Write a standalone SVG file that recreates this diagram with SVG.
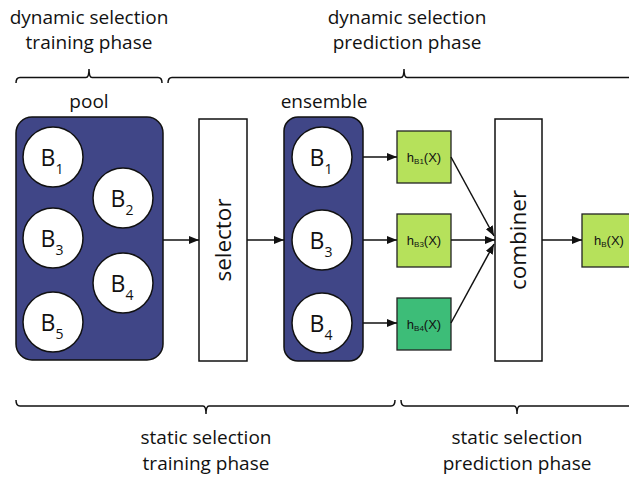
<svg xmlns="http://www.w3.org/2000/svg" width="629" height="478" viewBox="0 0 629 478">
<style>
.lbl{font-family:"Open Sans","Noto Sans",sans-serif;font-size:19px;fill:#111;text-anchor:middle}
.big{font-family:"Open Sans","Noto Sans",sans-serif;font-size:22.5px;fill:#111;text-anchor:middle}
.bl{font-family:"Open Sans","Noto Sans",sans-serif;font-size:23px;fill:#111;text-anchor:middle}
.hl{font-family:"Liberation Sans",Arial,sans-serif;font-size:13px;fill:#111;text-anchor:middle}
.grp{fill:#404687;stroke:#111;stroke-width:1.5}
.circ{fill:#fff;stroke:#111;stroke-width:1.5}
.box{fill:#fff;stroke:#111;stroke-width:1.5}
.g1{fill:#b6e15b;stroke:#222;stroke-width:1.3}
.g2{fill:#3dbd78;stroke:#222;stroke-width:1.3}
.brace{fill:none;stroke:#111;stroke-width:1.5}
.arr{fill:none;stroke:#111;stroke-width:1.5;marker-end:url(#ah)}
</style>
<defs>
<marker id="ah" viewBox="0 0 10 8" refX="10" refY="4" markerWidth="10" markerHeight="8" markerUnits="userSpaceOnUse" orient="auto">
<path d="M0,0 L10,4 L0,8 Z" fill="#111"/>
</marker>
</defs>

<g id="labels">
<text class="lbl" x="89" y="24">dynamic selection</text>
<text class="lbl" x="89" y="49">training phase</text>
<text class="lbl" x="407" y="24">dynamic selection</text>
<text class="lbl" x="407" y="49">prediction phase</text>
<text class="lbl" x="89" y="108">pool</text>
<text class="lbl" x="324" y="108">ensemble</text>
<text class="lbl" x="206" y="444">static selection</text>
<text class="lbl" x="206" y="470">training phase</text>
<text class="lbl" x="517" y="444">static selection</text>
<text class="lbl" x="517" y="470">prediction phase</text>
</g>

<g id="braces">
<path class="brace" d="M16,83 Q16,77.5 20,77.5 H86 Q89,77.5 89,69 Q89,77.5 92,77.5 H158 Q162,77.5 162,83"/>
<path class="brace" d="M168,83 Q168,77.5 172,77.5 H401 Q404,77.5 404,69 Q404,77.5 407,77.5 H640"/>
<path class="brace" d="M16,400 Q16,406 20,406 H203 Q206,406 206,414 Q206,406 209,406 H391 Q395,406 395,400"/>
<path class="brace" d="M401,400 Q401,406 405,406 H514 Q517,406 517,414 Q517,406 520,406 H640"/>
</g>

<g id="pool">
<rect class="grp" x="16" y="117" width="147" height="243" rx="16"/>
<circle class="circ" cx="53" cy="157" r="30"/>
<text class="bl" x="52" y="166">B<tspan font-size="14" dy="8">1</tspan></text>
<circle class="circ" cx="123" cy="198" r="30"/>
<text class="bl" x="122" y="207">B<tspan font-size="14" dy="8">2</tspan></text>
<circle class="circ" cx="53" cy="238" r="30"/>
<text class="bl" x="52" y="247">B<tspan font-size="14" dy="8">3</tspan></text>
<circle class="circ" cx="123" cy="283" r="30"/>
<text class="bl" x="122" y="292">B<tspan font-size="14" dy="8">4</tspan></text>
<circle class="circ" cx="53" cy="322" r="30"/>
<text class="bl" x="52" y="331">B<tspan font-size="14" dy="8">5</tspan></text>
</g>

<g id="selector">
<rect class="box" x="199" y="119" width="48" height="242"/>
<text class="big" transform="translate(231,240) rotate(-90)">selector</text>
</g>

<g id="ensemble">
<rect class="grp" x="284" y="117" width="79" height="244" rx="14"/>
<circle class="circ" cx="322" cy="157" r="30"/>
<text class="bl" x="321" y="166">B<tspan font-size="14" dy="8">1</tspan></text>
<circle class="circ" cx="322" cy="240" r="30"/>
<text class="bl" x="321" y="249">B<tspan font-size="14" dy="8">3</tspan></text>
<circle class="circ" cx="322" cy="323" r="30"/>
<text class="bl" x="321" y="332">B<tspan font-size="14" dy="8">4</tspan></text>
</g>

<g id="hB1">
<rect class="g1" x="397" y="131" width="54" height="52"/>
<text class="hl" x="424" y="162">h<tspan font-size="8" dy="2">B1</tspan><tspan dy="-2">(X)</tspan></text>
</g>
<g id="hB3">
<rect class="g1" x="397" y="214" width="54" height="53"/>
<text class="hl" x="424" y="245">h<tspan font-size="8" dy="2">B3</tspan><tspan dy="-2">(X)</tspan></text>
</g>
<g id="hB4">
<rect class="g2" x="397" y="298" width="54" height="52"/>
<text class="hl" x="424" y="329">h<tspan font-size="8" dy="2">B4</tspan><tspan dy="-2">(X)</tspan></text>
</g>

<g id="combiner">
<rect class="box" x="495" y="119" width="47" height="242"/>
<text class="big" transform="translate(526,240) rotate(-90)">combiner</text>
</g>

<g id="hB">
<rect class="g1" x="582" y="214" width="56" height="53"/>
<text class="hl" x="609" y="245">h<tspan font-size="8" dy="2">B</tspan><tspan dy="-2">(X)</tspan></text>
</g>

<g id="connectors">
<line class="arr" x1="163" y1="240" x2="199" y2="240"/>
<line class="arr" x1="247" y1="240" x2="284" y2="240"/>
<line class="arr" x1="363" y1="157" x2="397" y2="157"/>
<line class="arr" x1="363" y1="240" x2="397" y2="240"/>
<line class="arr" x1="363" y1="323" x2="397" y2="323"/>
<line class="arr" x1="451" y1="157" x2="494" y2="236"/>
<line class="arr" x1="451" y1="240" x2="495" y2="240"/>
<line class="arr" x1="451" y1="323" x2="494" y2="244"/>
<line class="arr" x1="542" y1="240" x2="582" y2="240"/>
</g>
</svg>
